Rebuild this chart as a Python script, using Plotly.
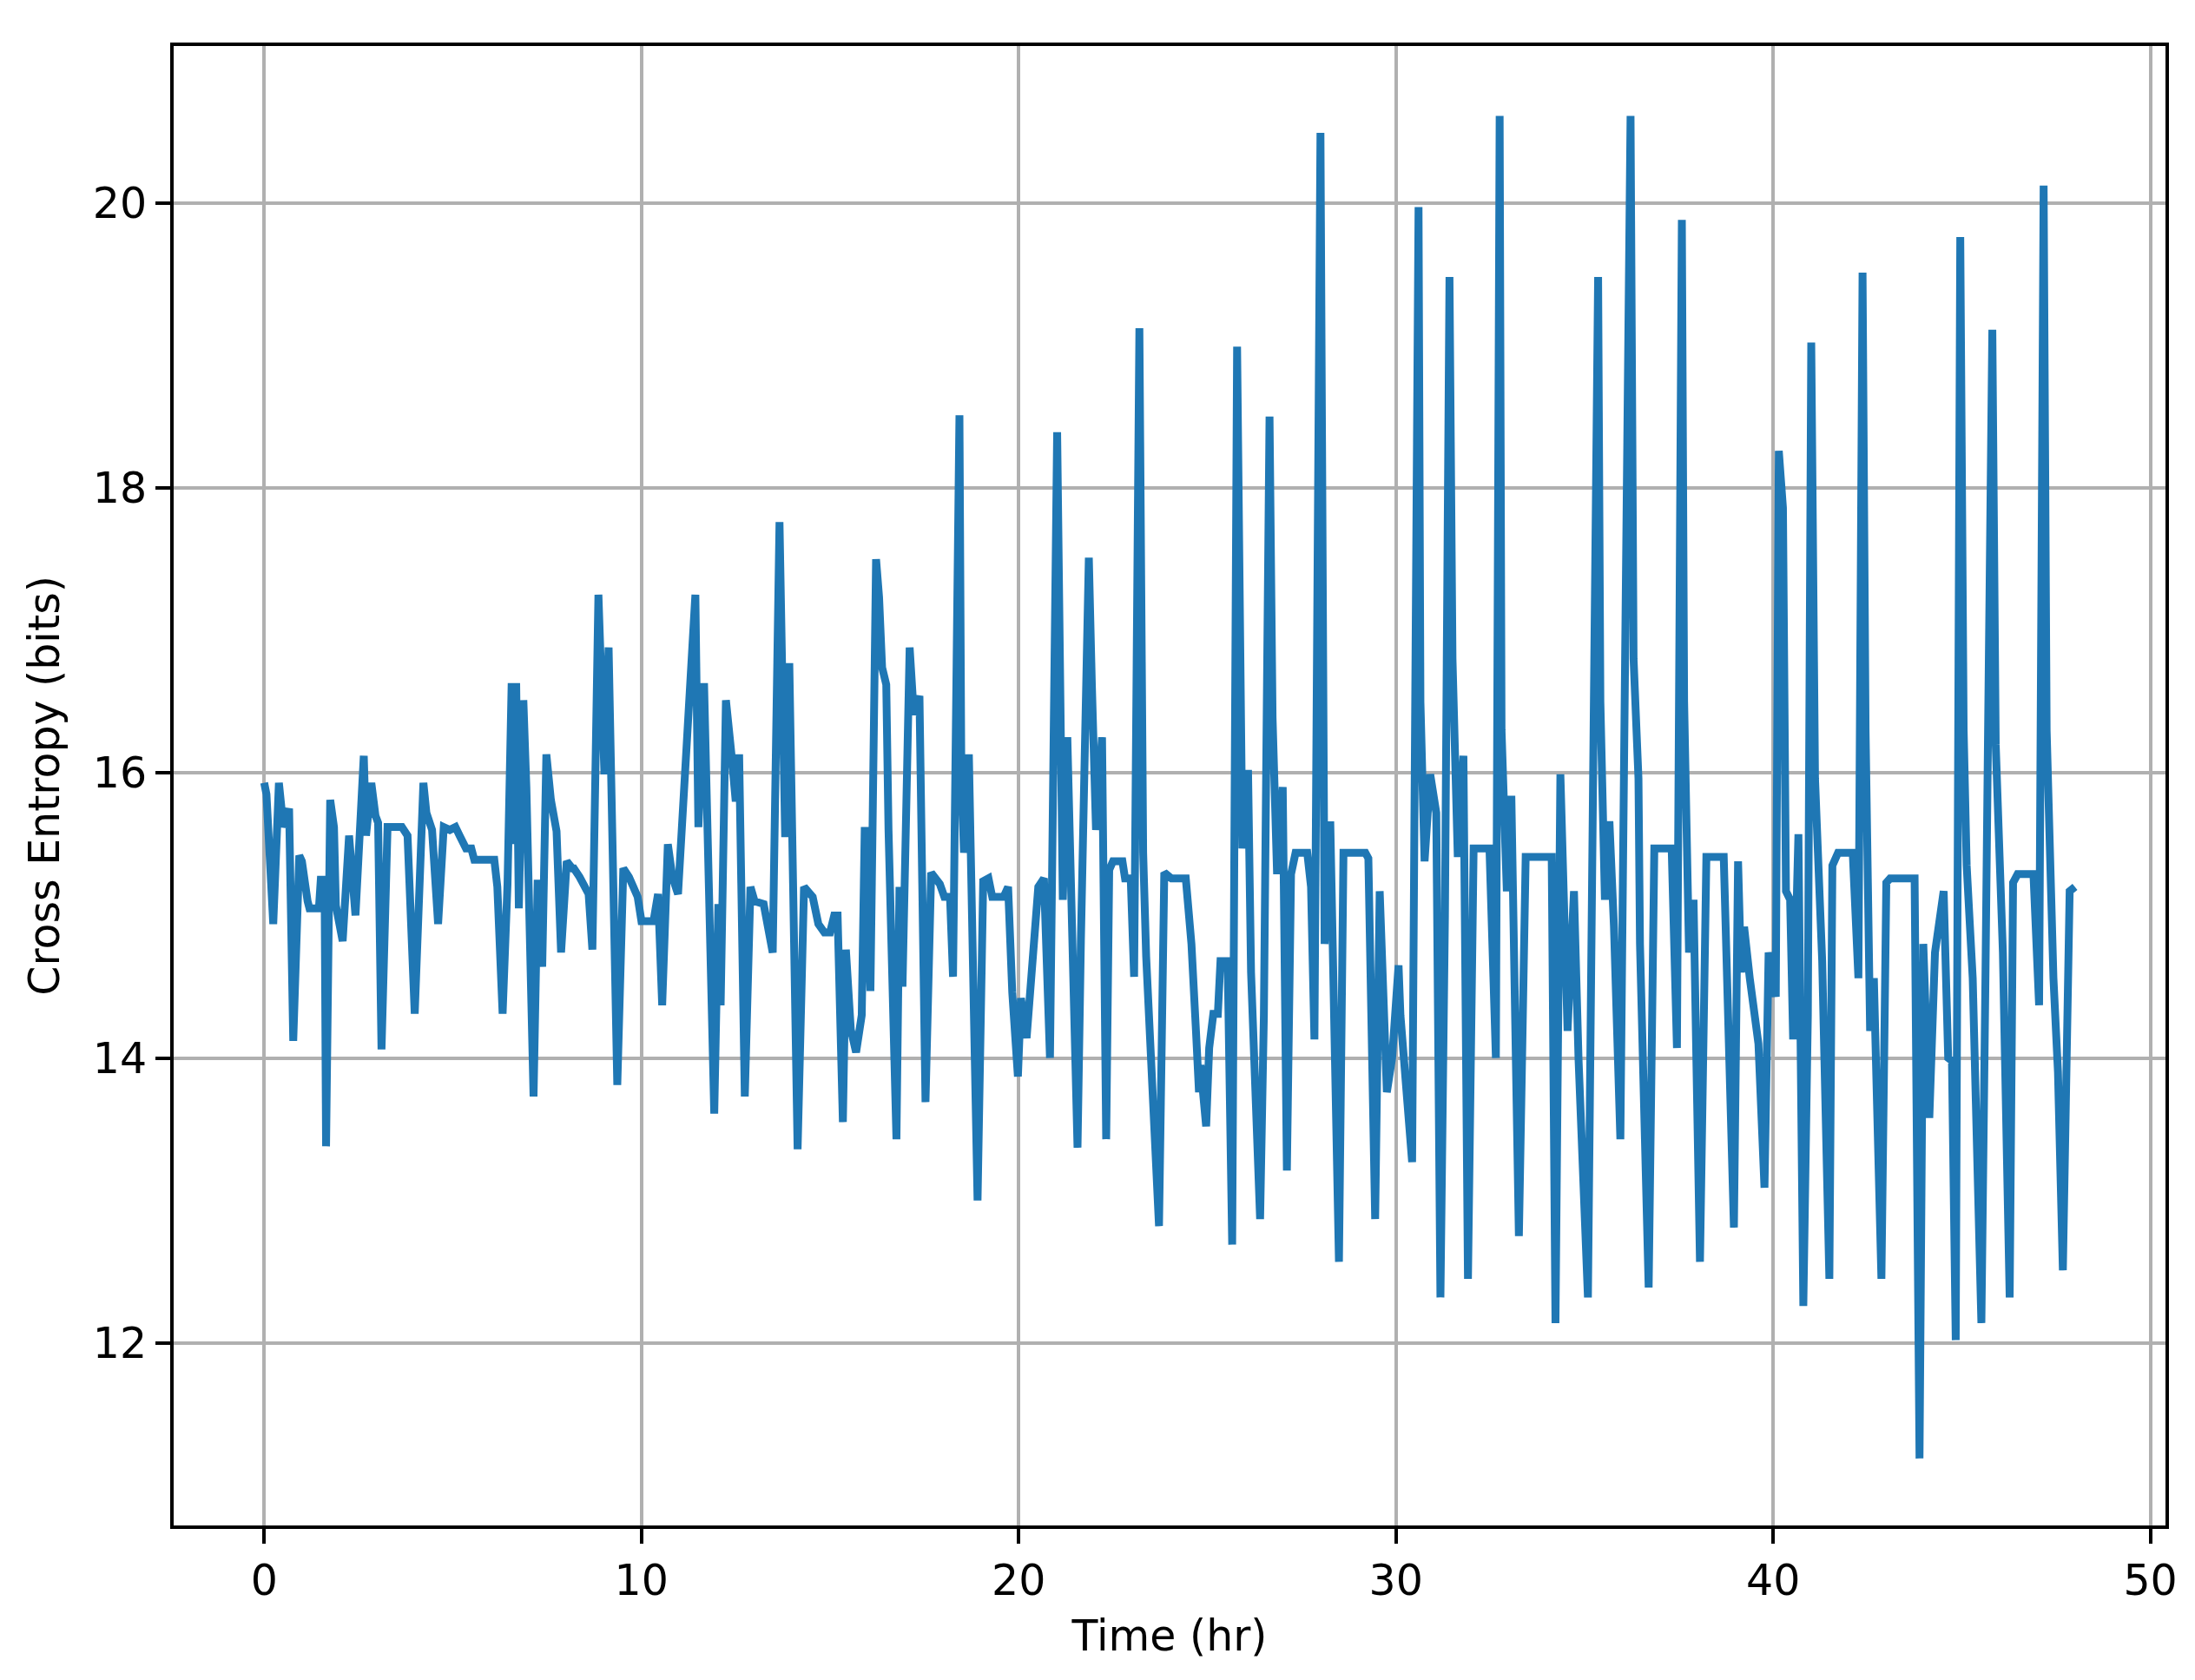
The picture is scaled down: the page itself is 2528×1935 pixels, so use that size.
import plotly.graph_objects as go

# Time (hr) and cross entropy (bits)
time_hr = [
    0.0, 0.06, 0.24, 0.32, 0.39, 0.51, 0.66, 0.77, 0.93, 1.0, 1.05, 1.15, 1.2, 1.45, 1.5, 1.6, 1.64, 1.75,
    1.85, 1.9, 2.08, 2.25, 2.42, 2.64, 2.7, 2.84, 2.95, 3.02, 3.11, 3.27, 3.65, 3.8,
    3.99, 4.22, 4.3, 4.45, 4.61, 4.76, 4.92, 5.07, 5.18, 5.35, 5.49, 5.57, 6.1, 6.18, 6.32, 6.45, 6.56,
    6.62, 6.68, 6.75, 6.87, 6.95, 7.14, 7.25, 7.37, 7.48, 7.6, 7.75, 7.87, 8.02, 8.17,
    8.21, 8.36, 8.52, 8.6, 8.70, 8.86, 9.02, 9.13, 9.36, 9.52, 9.67, 9.78, 9.90, 10.0, 10.32, 10.44,
    10.55, 10.70, 10.82, 10.97, 11.16, 11.28, 11.43, 11.51, 11.66, 11.93, 12.04, 12.1, 12.24,
    12.39, 12.5, 12.59, 12.74, 12.89, 13.0, 13.24, 13.48, 13.66, 13.81, 13.92, 14.14, 14.31, 14.54,
    14.69, 14.85, 15.0, 15.11, 15.2, 15.34, 15.42, 15.55, 15.69, 15.84, 15.92, 16.07, 16.22, 16.3,
    16.38, 16.49, 16.55, 16.76, 16.84, 16.92, 17.11, 17.22, 17.37, 17.53, 17.68, 17.91, 18.03, 18.18,
    18.26, 18.43, 18.48, 18.55, 18.68, 18.91, 19.06, 19.2, 19.3, 19.6, 19.72, 19.83, 19.98, 20.06,
    20.21, 20.36, 20.52, 20.67, 20.83, 21.02, 21.17, 21.29, 21.56, 21.65, 21.86, 21.94, 22.05, 22.21,
    22.32, 22.4, 22.5, 22.75, 22.82, 22.97, 23.06, 23.2, 23.26, 23.3, 23.38, 23.72, 23.86, 24.05,
    24.43, 24.52, 24.58, 24.7, 24.78, 24.82, 24.97, 25.05, 25.16, 25.28, 25.35, 25.54, 25.66, 25.79,
    25.86, 25.93, 26.08, 26.16, 26.4, 26.5, 26.65, 26.73, 26.85, 27.0, 27.11, 27.22, 27.34, 27.65,
    27.75, 27.84, 28.0, 28.05, 28.11, 28.26, 28.49, 28.61, 29.19, 29.27, 29.45, 29.57, 29.76, 29.9,
    30.07, 30.12, 30.26, 30.43, 30.6, 30.65, 30.76, 30.91, 31.07, 31.18, 31.3, 31.42, 31.5, 31.64,
    31.79, 31.91, 32.06, 32.48, 32.65, 32.75, 32.8, 32.94, 33.06, 33.26, 33.44, 34.13, 34.23, 34.36,
    34.55, 34.72, 34.84, 35.09, 35.36, 35.42, 35.54, 35.66, 35.78, 35.95, 36.0, 36.22, 36.3, 36.43,
    36.47, 36.7, 36.85, 37.31, 37.45, 37.58, 37.64, 37.77, 37.89, 38.06, 38.23, 38.69, 38.96, 39.07,
    39.15, 39.23, 39.38, 39.5, 39.61, 39.77, 39.88, 40.07, 40.15, 40.26, 40.34, 40.45, 40.53, 40.67,
    40.8, 40.92, 41.01, 41.11, 41.3, 41.49, 41.57, 41.72, 42.11, 42.26, 42.37, 42.45, 42.57, 42.67,
    42.87, 43.0, 43.1, 43.75, 43.88, 43.98, 44.14, 44.29, 44.52, 44.64, 44.74, 44.84, 44.96, 45.05,
    45.13, 45.29, 45.52, 45.63, 45.81, 45.9, 46.09, 46.27, 46.36, 46.48, 46.9, 47.05, 47.17, 47.25,
    47.43, 47.55, 47.68, 47.86, 48.0,
]

cross_entropy_bits = [
    15.93, 15.85, 14.94, 15.4, 15.93, 15.62, 15.75, 14.12, 15.42, 15.38, 15.25, 15.1, 15.05, 15.05, 15.25, 15.25, 13.38, 15.81,
    15.62, 15.07, 14.82, 15.56, 15.0, 16.12, 15.56, 15.93, 15.7, 15.65, 14.06, 15.62, 15.62, 15.56,
    14.31, 15.93, 15.72, 15.6, 14.94, 15.62, 15.6, 15.62, 15.56, 15.47, 15.47, 15.39, 15.39, 15.2, 14.31, 15.22, 16.63,
    15.5, 16.63, 15.05, 16.51, 15.9, 13.73, 15.25, 14.64, 16.13, 15.81, 15.59, 14.74, 15.38, 15.33,
    15.33, 15.27, 15.18, 15.15, 14.76, 17.25, 15.99, 16.88, 13.81, 15.33, 15.27, 15.2, 15.13, 14.96, 14.96, 15.15,
    14.37, 15.5, 15.27, 15.15, 15.93, 16.5, 17.25, 15.62, 16.63, 13.61, 15.08, 14.37, 16.51,
    16.12, 15.8, 16.13, 13.73, 15.2, 15.1, 15.08, 14.74, 17.76, 15.55, 16.77, 13.36, 15.2, 15.13,
    14.94, 14.88, 14.88, 15.0, 15.0, 13.55, 14.76, 14.2, 14.04, 14.3, 15.62, 14.47, 17.5, 17.23,
    16.74, 16.62, 15.6, 13.43, 15.2, 14.5, 16.88, 16.41, 16.54, 13.69, 15.3, 15.22, 15.13, 15.13,
    14.57, 18.51, 16.0, 15.44, 16.13, 13.0, 15.24, 15.26, 15.13, 15.13, 15.2, 14.46, 13.87, 14.42,
    14.14, 14.6, 15.2, 15.26, 14.0, 18.39, 15.11, 16.25, 13.37, 14.83, 17.51, 16.62, 15.6, 16.25,
    13.43, 15.32, 15.38, 15.38, 15.26, 15.26, 14.57, 19.12, 15.97, 15.44, 14.71, 12.82, 15.3, 15.26,
    15.26, 15.0, 14.8, 14.19, 13.76, 13.95, 13.52, 14.07, 14.31, 14.31, 14.68, 14.68, 12.69, 18.99,
    16.5, 15.47, 16.02, 14.6, 12.87, 14.3, 18.5, 16.39, 15.29, 15.9, 13.21, 15.29, 15.44, 15.44,
    15.2, 14.13, 20.49, 16.0, 14.8, 15.66, 12.57, 15.44, 15.44, 15.4, 12.87, 15.17, 13.76, 14.0,
    14.65, 14.3, 13.76, 13.27, 19.97, 16.5, 15.38, 15.99, 15.72, 12.32, 15.0, 19.48, 16.8, 15.41,
    16.12, 12.45, 15.47, 15.47, 14.0, 20.61, 16.3, 15.17, 15.84, 12.75, 15.41, 15.41, 12.14, 15.99,
    14.19, 15.17, 14.0, 12.32, 19.48, 16.5, 15.11, 15.66, 14.92, 13.43, 14.8, 20.61, 16.8, 15.96,
    14.8, 12.39, 15.47, 15.47, 14.07, 19.88, 16.5, 14.74, 15.11, 12.57, 15.41, 15.41, 12.81, 15.38,
    14.6, 14.92, 14.56, 14.25, 14.1, 13.09, 14.74, 14.43, 18.26, 17.86, 15.17, 15.11, 14.13, 15.57,
    12.26, 14.3, 19.02, 15.96, 14.68, 12.45, 15.35, 15.44, 15.44, 14.56, 19.51, 16.3, 14.19, 14.56,
    12.45, 15.23, 15.26, 15.26, 11.19, 14.8, 13.58, 14.74, 15.17, 14.0, 13.98, 12.02, 19.76, 16.3,
    15.35, 14.56, 12.14, 14.62, 19.11, 16.2, 14.74, 12.32, 15.23, 15.29, 15.29, 14.37, 20.12, 16.3,
    14.56, 13.9, 12.51, 15.17, 15.2,
]

x_ticks = [0, 10, 20, 30, 40, 50]
y_ticks = [12, 14, 16, 18, 20]
x_label = "Time (hr)"
y_label = "Cross Entropy (bits)"

FONT = "DejaVu Sans"

fig = go.Figure()
fig.add_trace(go.Scatter(
    x=time_hr, y=cross_entropy_bits, mode="lines",
    line=dict(color="#1f77b4", width=9),
    showlegend=False,
))

axis_common = dict(
    showline=True, mirror=True, linecolor="black", linewidth=4,
    showgrid=True, gridcolor="#b0b0b0", gridwidth=4,
    zeroline=False,
    ticks="outside", ticklen=17, tickwidth=4, tickcolor="black",
    tickfont=dict(family=FONT, size=49, color="black"),
)

fig.update_layout(
    width=2528, height=1935,
    margin=dict(l=200, r=34, t=53, b=178),
    paper_bgcolor="white", plot_bgcolor="white",
    font=dict(family=FONT, size=49, color="black"),
    xaxis=dict(
        range=[-2.4, 50.4], tickvals=x_ticks, ticktext=[str(v) for v in x_ticks],
        title=dict(text=x_label, font=dict(family=FONT, size=49), standoff=20),
        **axis_common,
    ),
    yaxis=dict(
        range=[10.72, 21.1], tickvals=y_ticks, ticktext=[str(v) for v in y_ticks],
        title=dict(text=y_label, font=dict(family=FONT, size=49), standoff=24),
        **axis_common,
    ),
)

fig.write_html("out.html")
